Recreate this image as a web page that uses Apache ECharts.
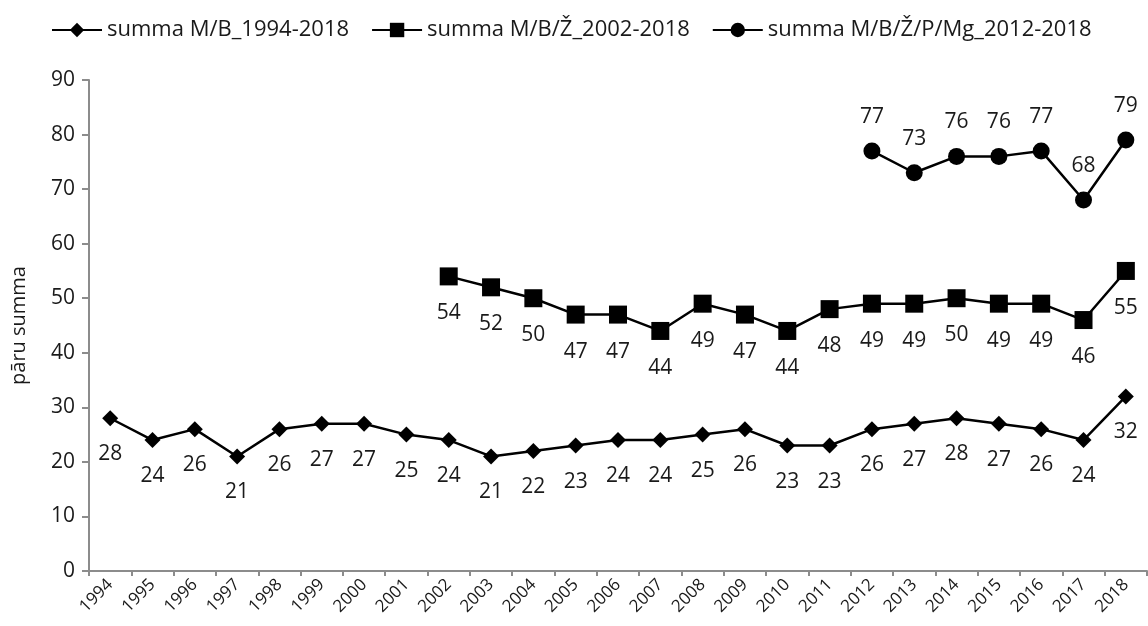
<!DOCTYPE html>
<html>
<head>
<meta charset="utf-8">
<script src="https://cdn.jsdelivr.net/npm/echarts@6/dist/echarts.min.js"></script>
<style>
  html, body { margin: 0; padding: 0; background: #fff; }
  #chart { width: 1148px; height: 626px; }
</style>
</head>
<body>
<div id="chart"></div>
<script>
// gadi
const years = ['1994', '1995', '1996', '1997', '1998', '1999', '2000', '2001', '2002', '2003',
  '2004', '2005', '2006', '2007', '2008', '2009', '2010', '2011', '2012', '2013',
  '2014', '2015', '2016', '2017', '2018']

const names = ['summa M/B_1994-2018', 'summa M/B/Ž_2002-2018', 'summa M/B/Ž/P/Mg_2012-2018']

// summa M/B, 1994-2018
const sumMB = [28, 24, 26, 21, 26, 27, 27, 25, 24, 21, 22, 23, 24, 24, 25, 26, 23, 23, 26, 27, 28, 27, 26, 24, 32]
// summa M/B/Ž, 2002-2018
const sumMBZ = [null, null, null, null, null, null, null, null,
  54, 52, 50, 47, 47, 44, 49, 47, 44, 48, 49, 49, 50, 49, 49, 46, 55]
// summa M/B/Ž/P/Mg, 2012-2018
const sumAll = [null, null, null, null, null, null, null, null, null, null, null, null, null, null, null, null, null, null,
  77, 73, 76, 76, 77, 68, 79]

const yTicks = { min: 0, max: 90, interval: 10 }

const font = 'Open Sans'
const axisColor = '#8c8c8c'
const textColor = '#1a1a1a'

const chart = echarts.init(document.getElementById('chart'))

// vienas sērijas iestatījums
function makeSeries(name, data, symbol, size, labelOffset) {
  return {
    name: name,
    type: 'line',
    data: data,
    symbol: symbol,
    symbolSize: size,
    lineStyle: { color: '#000', width: 2.5 },
    itemStyle: { color: '#000' },
    animation: false,
    label: {
      show: true,
      position: 'inside',
      offset: [0, labelOffset],
      color: textColor,
      fontFamily: font,
      fontSize: 21
    }
  }
}

const option = {
  legend: {
    top: 14,
    left: 46,
    itemWidth: 50,
    itemHeight: 18,
    itemGap: 22,
    textStyle: { fontFamily: font, fontSize: 22, color: textColor },
    data: names
  },
  grid: {
    left: 89,
    right: 1,
    top: 80,
    bottom: 55
  },
  xAxis: {
    type: 'category',
    data: years,
    boundaryGap: true,
    axisLine: { lineStyle: { color: axisColor, width: 2 } },
    axisTick: { show: true, length: 5, lineStyle: { color: axisColor, width: 2 } },
    axisLabel: {
      rotate: 45,
      interval: 0,
      margin: 11,
      color: textColor,
      fontFamily: font,
      fontSize: 17
    },
    splitLine: { show: false }
  },
  yAxis: {
    type: 'value',
    min: yTicks.min,
    max: yTicks.max,
    interval: yTicks.interval,
    name: 'pāru summa',
    nameLocation: 'middle',
    nameGap: 60,
    nameTextStyle: { fontFamily: font, fontSize: 20, color: textColor },
    axisLine: { show: true, lineStyle: { color: axisColor, width: 2 } },
    axisTick: { show: true, length: 7, lineStyle: { color: axisColor, width: 2 } },
    axisLabel: { margin: 14, color: textColor, fontFamily: font, fontSize: 21 },
    splitLine: { show: false }
  },
  series: [
    makeSeries(names[0], sumMB, 'diamond', 16, 36),
    makeSeries(names[1], sumMBZ, 'rect', 18, 37),
    makeSeries(names[2], sumAll, 'circle', 17, -34)
  ]
}

chart.setOption(option)
</script>
</body>
</html>
